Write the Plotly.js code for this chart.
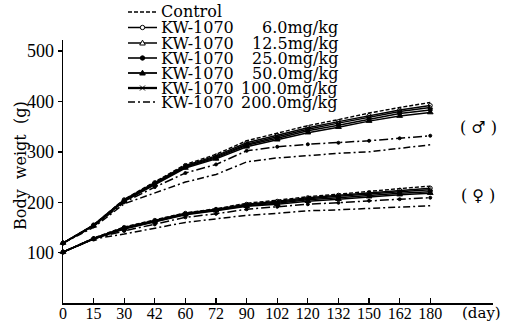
<!DOCTYPE html>
<html><head><meta charset="utf-8">
<script src="https://cdn.plot.ly/plotly-3.0.1.min.js"></script>
<style>html,body{margin:0;padding:0;background:#fff}#chart{width:509px;height:323px}</style>
</head><body><div id="chart"></div>
<script>
// Categories (days)
const days = ['0','15','30','42','60','72','90','102','120','132','150','162','180'];
const yTicks = [100,200,300,400,500];
const groupNames = ['Control','KW-1070','KW-1070','KW-1070','KW-1070','KW-1070','KW-1070'];
const doseLabels = ['', '6.0mg/kg','12.5mg/kg','25.0mg/kg','50.0mg/kg','100.0mg/kg','200.0mg/kg'];

// Male body weight (g)
const maleControl = [119,155,206,240,275,295,322,337,352,364,377,388,398];
const male6    = [119,155,205,239,273,292,318,333,348,360,372,383,392];
const male12_5 = [119,154,204,238,271,290,315,330,345,357,369,380,388];
const male25   = [119,154,203,237,270,288,313,327,342,353,365,376,383];
const male50   = [119,153,202,235,268,286,310,324,338,349,361,371,378];
const male100  = [119,152,200,230,258,275,302,310,315,318,322,327,332];
const male200  = [119,150,197,218,240,255,280,288,293,297,300,307,314];

// Female body weight (g)
const femaleControl = [101,129,151,165,179,187,198,204,211,216,222,227,232];
const female6    = [101,128,150,164,178,186,196,202,209,214,219,224,228];
const female12_5 = [101,128,149,163,177,185,195,200,207,212,217,221,225];
const female25   = [101,127,148,162,176,184,193,198,205,209,214,218,221];
const female50   = [101,127,147,161,175,183,192,196,202,206,211,215,218];
const female100  = [101,128,143,156,170,177,186,191,196,199,203,206,209];
const female200  = [101,127,137,148,160,167,174,178,183,185,188,191,193];

const TICKFONT = 'Liberation Serif, Times New Roman, serif';
const TEXTFONT = 'DejaVu Serif, Liberation Serif, serif';
const styles = [
  {dash:'4px,2px', width:1.4, symbol:'circle', size:0},
  {dash:'solid', width:1.5, symbol:'circle-open', size:4},
  {dash:'solid', width:1.5, symbol:'triangle-up-open', size:4},
  {dash:'solid', width:1.5, symbol:'circle', size:4},
  {dash:'solid', width:1.5, symbol:'triangle-up', size:5},
  {dash:'9px,3px,2px,3px', width:1.5, symbol:'circle', size:3},
  {dash:'7px,3px,2px,3px', width:1.5, symbol:'circle', size:0}
];
const maleSets = [maleControl, male6, male12_5, male25, male50, male100, male200];
const femaleSets = [femaleControl, female6, female12_5, female25, female50, female100, female200];

const traces = [];
[maleSets, femaleSets].forEach(sets => {
  sets.forEach((ys, i) => {
    const s = styles[i];
    traces.push({
      type:'scatter', mode: s.size ? 'lines+markers' : 'lines',
      x: days, y: ys,
      line:{color:'#000', width:s.width, dash:s.dash},
      marker:{color:'#000', symbol:s.symbol, size:s.size, line:{color:'#000', width:1}},
      showlegend:false, hoverinfo:'skip', cliponaxis:false
    });
  });
});

// Layout geometry (pixels) -> paper coordinates for legend / labels
const M = {l:63, r:16, t:40, b:20};
const PW = 509 - M.l - M.r, PH = 323 - M.t - M.b;
const px = x => (x - M.l) / PW;
const py = y => (323 - M.b - y) / PH;

const legendRows = [12, 27.5, 43, 58, 73, 88, 102];
const legendStyles = [
  {dash:'4px,2px', width:1.4, mk:null},
  {dash:'solid', width:1.5, mk:'circle-open'},
  {dash:'solid', width:1.5, mk:'tri-open'},
  {dash:'solid', width:1.6, mk:'dot'},
  {dash:'solid', width:1.8, mk:'tri'},
  {dash:'solid', width:2.3, mk:'x'},
  {dash:'7px,3px,2px,3px', width:1.5, mk:null}
];
const shapes = [];
const L0 = 128, L1 = 157, LM = 142.5;
legendRows.forEach((ry, i) => {
  const s = legendStyles[i];
  shapes.push({type:'line', xref:'paper', yref:'paper', x0:px(L0), x1:px(L1), y0:py(ry), y1:py(ry),
    line:{color:'#000', width:s.width, dash:s.dash}});
  const r = 2.2;
  if (s.mk === 'circle-open' || s.mk === 'dot') {
    shapes.push({type:'circle', xref:'paper', yref:'paper', x0:px(LM-r), x1:px(LM+r), y0:py(ry+r), y1:py(ry-r),
      line:{color:'#000', width:1}, fillcolor: s.mk === 'dot' ? '#000' : '#fff'});
  } else if (s.mk === 'tri' || s.mk === 'tri-open') {
    const path = `M${px(LM-2.8)},${py(ry+2)} L${px(LM+2.8)},${py(ry+2)} L${px(LM)},${py(ry-2.8)} Z`;
    shapes.push({type:'path', xref:'paper', yref:'paper', path:path,
      line:{color:'#000', width:1}, fillcolor: s.mk === 'tri' ? '#000' : '#fff'});
  } else if (s.mk === 'x') {
    shapes.push({type:'line', xref:'paper', yref:'paper', x0:px(LM-2.5), x1:px(LM+2.5), y0:py(ry-2.5), y1:py(ry+2.5), line:{color:'#000', width:1}});
    shapes.push({type:'line', xref:'paper', yref:'paper', x0:px(LM-2.5), x1:px(LM+2.5), y0:py(ry+2.5), y1:py(ry-2.5), line:{color:'#000', width:1}});
  }
});

const annotations = [];
legendRows.forEach((ry, i) => {
  annotations.push({xref:'paper', yref:'paper', x:px(159), y:py(ry), text:groupNames[i], showarrow:false,
    xanchor:'left', yanchor:'middle', font:{family:TEXTFONT, size:16, color:'#000'}});
  if (doseLabels[i]) annotations.push({xref:'paper', yref:'paper', x:px(340), y:py(ry), text:doseLabels[i], showarrow:false,
    xanchor:'right', yanchor:'middle', font:{family:TEXTFONT, size:16, color:'#000'}});
});
annotations.push({xref:'paper', yref:'paper', x:px(478), y:py(127), text:'( \u2642 )', showarrow:false,
  xanchor:'center', yanchor:'middle', font:{family:TEXTFONT, size:16, color:'#000'}});
annotations.push({xref:'paper', yref:'paper', x:px(478), y:py(195), text:'( \u2640 )', showarrow:false,
  xanchor:'center', yanchor:'middle', font:{family:TEXTFONT, size:16, color:'#000'}});
annotations.push({xref:'paper', yref:'paper', x:px(481), y:py(313), text:'(day)', showarrow:false,
  xanchor:'center', yanchor:'middle', font:{family:TEXTFONT, size:15, color:'#000'}});
annotations.push({xref:'paper', yref:'paper', x:px(20), y:py(166), text:'Body\u00A0\u00A0weigt\u00A0\u00A0(g)', textangle:-90, showarrow:false,
  xanchor:'center', yanchor:'middle', font:{family:TEXTFONT, size:16, color:'#000'}});

const layout = {
  width:509, height:323,
  margin:M,
  paper_bgcolor:'#fff', plot_bgcolor:'#fff',
  font:{family:TICKFONT, color:'#000', size:16},
  showlegend:false,
  xaxis:{type:'category', range:[0,14.05], tickmode:'array', tickvals:days, ticktext:days,
    ticks:'inside', ticklen:5, tickwidth:1.3, tickcolor:'#000', showline:true, linecolor:'#000', linewidth:1.5,
    showgrid:false, zeroline:false, ticklabelstandoff:-5, tickfont:{family:TICKFONT, size:16, color:'#000'}},
  yaxis:{range:[0,522], tickmode:'array', tickvals:yTicks, ticks:'outside', ticklen:4, tickwidth:1.3, tickcolor:'#000',
    showline:true, linecolor:'#000', linewidth:1.5, showgrid:false, zeroline:false,
    tickfont:{family:TICKFONT, size:18, color:'#000'}},
  shapes: shapes,
  annotations: annotations
};
Plotly.newPlot('chart', traces, layout, {staticPlot:true, displayModeBar:false});
</script>
</body></html>
